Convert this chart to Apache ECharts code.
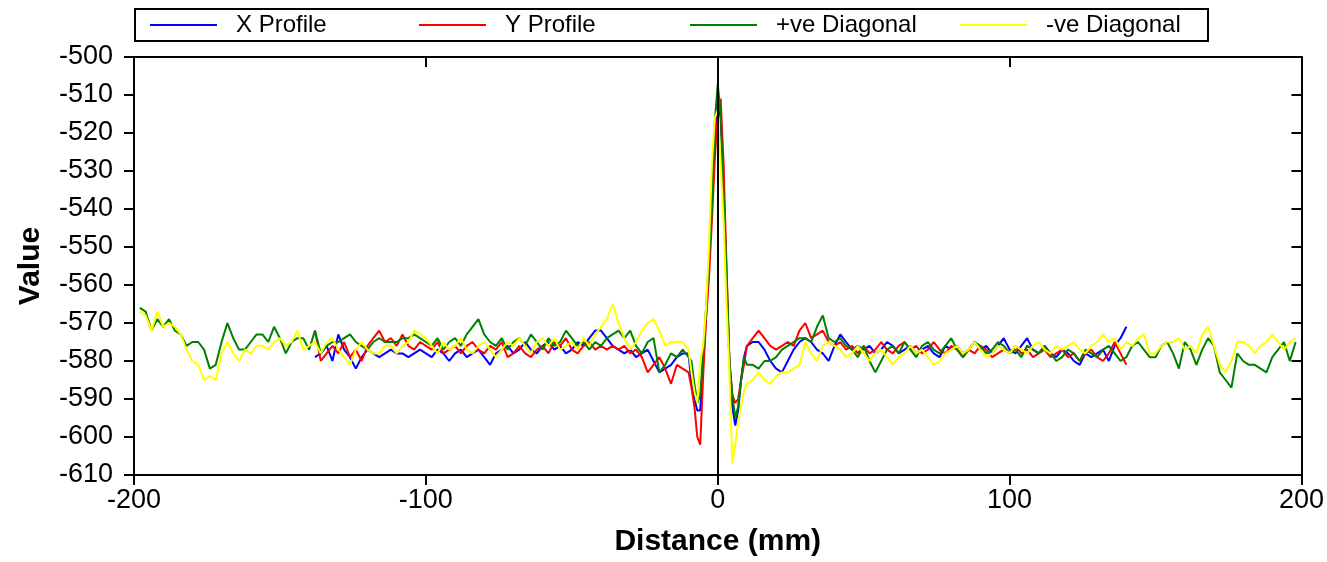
<!DOCTYPE html>
<html><head><meta charset="utf-8">
<script src="https://cdn.jsdelivr.net/npm/echarts@6/dist/echarts.min.js"></script>
<style>html,body{margin:0;padding:0;background:#fff}#c{width:1327px;height:562px}</style>
</head><body><div id="c"></div>
<script>
const seriesNames = ['X Profile', 'Y Profile', '+ve Diagonal', '-ve Diagonal'];
const seriesColors = ['#0000ff', '#ff0000', '#008000', '#ffff00'];
const xTickRange = [-200, 200, 100];
const yTickRange = [-610, -500, 10];

function grid(a, b, s) { const r = []; for (let v = a; v <= b; v += s) r.push(v); return r; }
// measurement positions (mm): coarse sampling away from the centre, 1 mm across the peak
const distProfile = grid(-138, -10, 2).concat(grid(-9, 9, 1), grid(10, 140, 2));
const distDiagonal = grid(-198, -10, 2).concat(grid(-9, 9, 1), grid(10, 198, 2));

const xProfile = [
  -579,-578,-576,-580,-573,-577,-579,-582,-579,-577,-578,-579,-578,-577,-578,-578,-579,-578,-577,-578,
  -579,-577,-578,-580,-578,-577,-579,-578,-577,-579,
  -581,-578,-577,-576,-578,-577,-575,-577,-578,-576,
  -575,-577,-576,-578,-577,-575,-576,-574,-572,-572,
  -574,-576,-577,-578,-577,-579,-578,-577,-580,-583,
  -582,-581,-579,-578,-578,
  -586,-590,-593,-593,-580,-568,-555,-538,-522,-512,-516,-535,-560,-580,-592,-597,-593,-585,-579,
  -576,-575,-575,-577,-580,-582,-583,-580,-577,-575,
  -574,-575,-577,-578,-580,-576,-573,-575,-577,-576,
  -577,-576,-578,-577,-575,-576,-578,-577,-576,-578,
  -577,-576,-578,-579,-576,-577,-576,-578,-577,-575,
  -577,-576,-578,-576,-574,-577,-578,-576,-574,-577,
  -578,-576,-578,-579,-577,-578,-580,-581,-578,-579,
  -578,-577,-580,-576,-574,-571
];
const yProfile = [
  -572,-580,-578,-576,-578,-575,-579,-577,-580,-576,-574,-572,-575,-574,-576,-573,-576,-577,-575,-576,
  -577,-575,-578,-577,-576,-578,-576,-575,-577,-578,
  -576,-577,-575,-579,-578,-576,-578,-579,-577,-576,
  -578,-575,-576,-574,-577,-578,-576,-575,-577,-576,
  -577,-576,-577,-576,-578,-577,-579,-583,-581,-579,
  -582,-586,-581,-582,-583,
  -587,-592,-600,-602,-584,-569,-558,-543,-527,-515,-511,-528,-555,-580,-589,-591,-590,-585,-581,
  -576,-574,-572,-574,-576,-577,-576,-575,-576,-572,
  -570,-574,-573,-572,-575,-576,-575,-577,-576,-578,
  -576,-578,-577,-575,-577,-578,-576,-575,-577,-576,
  -578,-577,-575,-577,-578,-576,-577,-579,-577,-578,
  -576,-577,-579,-578,-577,-578,-576,-578,-577,-579,
  -578,-577,-579,-578,-577,-579,-578,-580,-578,-577,
  -579,-580,-578,-575,-578,-581
];
const posDiagonal = [
  -566,-567,-572,-569,-571,-569,-572,-573,-576,-575,
  -575,-577,-582,-581,-575,-570,-574,-577,-577,-575,
  -573,-573,-575,-571,-574,-578,-575,-574,-574,-577,
  -572,-578,-576,-575,-575,-574,-573,-575,-576,-577,
  -575,-574,-575,-575,-575,-574,-574,-573,-574,-575,
  -576,-574,-577,-575,-574,-576,-573,-571,-569,-573,
  -575,-576,-574,-577,-575,-574,-576,-573,-575,-577,
  -574,-576,-575,-572,-574,-576,-575,-577,-575,-576,
  -574,-573,-572,-574,-572,-576,-578,-575,-574,-583,
  -581,-578,-579,-577,-579,
  -580,-586,-591,-589,-578,-566,-553,-540,-517,-507,-515,-536,-556,-580,-589,-595,-592,-585,-579,
  -581,-581,-582,-580,-580,-579,-577,-576,-575,-574,
  -574,-575,-571,-568,-574,-575,-574,-576,-577,-579,
  -576,-580,-583,-580,-577,-576,-578,-575,-577,-579,
  -576,-575,-577,-578,-576,-574,-577,-579,-577,-575,
  -576,-578,-577,-575,-576,-578,-577,-579,-576,-577,
  -578,-576,-578,-580,-579,-577,-578,-580,-577,-578,
  -579,-577,-576,-578,-580,-579,-576,-575,-577,-579,
  -579,-576,-575,-578,-582,-575,-577,-581,-577,-574,
  -576,-583,-585,-587,-578,-580,-581,-581,-582,-583,
  -579,-577,-575,-580,-575
];
const negDiagonal = [
  -567,-568,-572,-567,-571,-570,-571,-573,-577,-580,
  -581,-585,-584,-585,-578,-575,-578,-580,-577,-578,
  -576,-576,-577,-575,-574,-576,-575,-572,-577,-576,
  -575,-578,-575,-574,-577,-579,-581,-577,-575,-577,
  -578,-578,-576,-576,-578,-576,-575,-572,-573,-574,
  -576,-578,-575,-577,-576,-574,-577,-578,-576,-575,
  -577,-579,-577,-575,-576,-574,-576,-578,-575,-574,
  -576,-574,-577,-576,-575,-577,-574,-576,-573,-571,
  -569,-565,-570,-574,-577,-575,-572,-570,-569,-572,
  -576,-575,-575,-575,-577,
  -583,-588,-591,-580,-576,-566,-550,-528,-516,-514,-528,-543,-565,-583,-607,-602,-596,-592,-588,
  -586,-585,-583,-585,-586,-584,-583,-583,-582,-581,
  -575,-578,-580,-576,-575,-576,-577,-579,-578,-576,
  -578,-580,-578,-577,-579,-581,-579,-578,-576,-578,
  -577,-579,-581,-580,-578,-577,-576,-578,-577,-575,
  -577,-579,-578,-576,-577,-578,-576,-577,-578,-576,
  -575,-577,-578,-576,-577,-576,-575,-577,-578,-576,
  -575,-573,-575,-574,-577,-575,-576,-574,-573,-578,
  -578,-576,-575,-575,-574,-577,-576,-578,-573,-571,
  -576,-581,-583,-580,-575,-575,-576,-578,-576,-575,
  -573,-575,-577,-575,-574
];

function zip(xs, ys) {
  if (xs.length !== ys.length) throw new Error('length mismatch ' + xs.length + ' vs ' + ys.length);
  return xs.map((x, i) => [x, ys[i]]);
}
const seriesData = [
  zip(distProfile, xProfile),
  zip(distProfile, yProfile),
  zip(distDiagonal, posDiagonal),
  zip(distDiagonal, negDiagonal)
];

const FONT = 'Liberation Sans, Arial, sans-serif';
const axisLineStyle = { color: '#000', width: 2 };
function xAx(pos, showLabel) {
  return {
    type: 'value', position: pos, min: xTickRange[0], max: xTickRange[1], interval: xTickRange[2],
    axisLine: { show: true, onZero: false, lineStyle: axisLineStyle },
    axisTick: { show: true, inside: !showLabel, length: 10, lineStyle: axisLineStyle },
    axisLabel: { show: showLabel, color: '#000', fontSize: 27, fontFamily: FONT, margin: 12 },
    splitLine: { show: false },
    name: showLabel ? 'Distance (mm)' : '', nameLocation: 'middle', nameGap: 52,
    nameTextStyle: { color: '#000', fontSize: 30, fontWeight: 'bold', fontFamily: FONT }
  };
}
function yAx(pos, showLabel) {
  return {
    type: 'value', position: pos, min: yTickRange[0], max: yTickRange[1], interval: yTickRange[2],
    axisLine: { show: true, onZero: false, lineStyle: axisLineStyle },
    axisTick: { show: true, inside: !showLabel, length: 10, lineStyle: axisLineStyle },
    axisLabel: { show: showLabel, color: '#000', fontSize: 27, fontFamily: FONT, margin: 21 },
    splitLine: { show: false },
    name: showLabel ? 'Value' : '', nameLocation: 'middle', nameGap: 88, nameRotate: 90,
    nameTextStyle: { color: '#000', fontSize: 30, fontWeight: 'bold', fontFamily: FONT }
  };
}
const legendLefts = [150, 419, 690, 960];

const chart = echarts.init(document.getElementById('c'), null, { renderer: 'canvas' });
chart.setOption({
  animation: false,
  backgroundColor: '#fff',
  color: seriesColors,
  grid: { left: 134, right: 23, top: 57, bottom: 87 },
  graphic: [{
    type: 'rect', silent: true,
    shape: { x: 135, y: 9, width: 1073, height: 32 },
    style: { fill: 'none', stroke: '#000', lineWidth: 2 }
  }],
  legend: seriesNames.map((name, i) => ({
    data: [name], left: legendLefts[i], top: 13, padding: 0,
    icon: 'rect', itemWidth: 67, itemHeight: 2,
    textStyle: { color: '#000', fontSize: 24, fontFamily: FONT, padding: [0, 0, 0, 14] }
  })),
  xAxis: [xAx('bottom', true), xAx('top', false)],
  yAxis: [yAx('left', true), yAx('right', false)],
  series: seriesNames.map((name, i) => ({
    name, type: 'line', data: seriesData[i], showSymbol: false, symbol: 'none',
    xAxisIndex: 0, yAxisIndex: 0,
    lineStyle: { width: 2, color: seriesColors[i] },
    itemStyle: { color: seriesColors[i] },
    markLine: i === 0 ? {
      silent: true, symbol: ['none', 'none'], label: { show: false },
      lineStyle: { color: '#000', width: 2, type: 'solid' },
      data: [{ xAxis: 0 }]
    } : undefined
  }))
});
</script></body></html>
